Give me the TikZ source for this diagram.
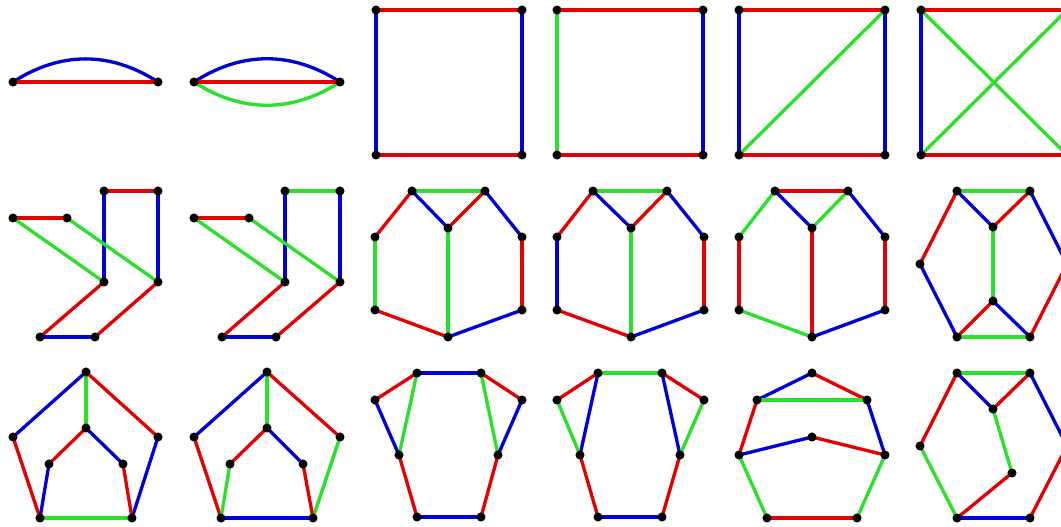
\documentclass[tikz,border=0pt]{standalone}
\definecolor{er}{RGB}{228,0,0}
\definecolor{eb}{RGB}{0,0,215}
\definecolor{eg}{RGB}{40,225,40}
\pgfdeclarelayer{bg}
\pgfsetlayers{bg,main}
\begin{document}
\begin{tikzpicture}[x=0.75pt,y=-0.75pt,
  dot/.style={circle,fill=black,inner sep=0pt,minimum size=6.8pt},
  R/.style={draw=er,line width=2.5pt},
  B/.style={draw=eb,line width=2.5pt},
  G/.style={draw=eg,line width=2.5pt},
  wide/.style={line width=3.7pt}]
\useasboundingbox (0,0) rectangle (1061,526);
\clip (0,0) rectangle (1061,526);
% ---------- row 1 ----------
\node[dot] (c1a) at (13,82) {};
\node[dot] (c1b) at (158,82) {};
\node[dot] (c2a) at (194,82) {};
\node[dot] (c2b) at (340,82) {};
\foreach \n/\x in {3/376,4/557,5/739} {
  \pgfmathtruncatemacro{\xr}{\x+146}
  \node[dot] (c\n a) at (\x,10) {};
  \node[dot] (c\n b) at (\xr,10) {};
  \node[dot] (c\n c) at (\x,155) {};
  \node[dot] (c\n d) at (\xr,155) {};
}
\node[dot] (c6a) at (921,10) {};
\coordinate (c6b) at (1067,10);
\node[dot] (c6c) at (921,155) {};
\coordinate (c6d) at (1067,155);
% ---------- row 2 ----------
\foreach \n/\ax/\bx/\cx/\dx/\gx/\hx in {7/13/67/104/158/40/95, 8/194/249/285/340/222/276} {
  \node[dot] (c\n a) at (\ax,218) {};
  \node[dot] (c\n b) at (\bx,218) {};
  \node[dot] (c\n c) at (\cx,191) {};
  \node[dot] (c\n d) at (\dx,191) {};
  \node[dot] (c\n e) at (\cx,282) {};
  \node[dot] (c\n f) at (\dx,282) {};
  \node[dot] (c\n g) at (\gx,337) {};
  \node[dot] (c\n h) at (\hx,337) {};
}
\foreach \n/\a/\b/\m/\l/\r in {9/412/485/448/375/522, 10/593/667/631/557/704, 11/775/848/812/739/885} {
  \node[dot] (c\n t1) at (\a,191) {};
  \node[dot] (c\n t2) at (\b,191) {};
  \node[dot] (c\n m) at (\m,228) {};
  \node[dot] (c\n l1) at (\l,237) {};
  \node[dot] (c\n r1) at (\r,237) {};
  \node[dot] (c\n l2) at (\l,310) {};
  \node[dot] (c\n r2) at (\r,310) {};
  \node[dot] (c\n b) at (\m,337) {};
}
\node[dot] (c12t1) at (957,191) {};
\node[dot] (c12t2) at (1030,191) {};
\node[dot] (c12m1) at (993,227) {};
\node[dot] (c12l) at (920,264) {};
\node[dot] (c12m2) at (993,301) {};
\node[dot] (c12b1) at (957,337) {};
\node[dot] (c12b2) at (1030,337) {};
\coordinate (c12r) at (1067,264);
% ---------- row 3 ----------
\foreach \n/\t/\l/\r/\il/\ir/\bl/\br in {13/86/13/158/49/123/40/132, 14/267/194/340/230/303/221/313} {
  \node[dot] (c\n top) at (\t,372) {};
  \node[dot] (c\n l) at (\l,437) {};
  \node[dot] (c\n r) at (\r,437) {};
  \node[dot] (c\n it) at (\t,428) {};
  \node[dot] (c\n il) at (\il,464) {};
  \node[dot] (c\n ir) at (\ir,464) {};
  \node[dot] (c\n bl) at (\bl,518) {};
  \node[dot] (c\n br) at (\br,518) {};
}
\foreach \n/\tl/\tr/\l/\r/\ml/\mr in {15/417/481/375/522/399/498, 16/598/662/557/704/580/680} {
  \node[dot] (c\n tl) at (\tl,373) {};
  \node[dot] (c\n tr) at (\tr,373) {};
  \node[dot] (c\n l) at (\l,400) {};
  \node[dot] (c\n r) at (\r,400) {};
  \node[dot] (c\n ml) at (\ml,455) {};
  \node[dot] (c\n mr) at (\mr,455) {};
  \node[dot] (c\n bl) at (\tl,517) {};
  \node[dot] (c\n br) at (\tr,517) {};
}
\node[dot] (c17t) at (812,373) {};
\node[dot] (c17ul) at (757,400) {};
\node[dot] (c17ur) at (867,400) {};
\node[dot] (c17c) at (812,437) {};
\node[dot] (c17l) at (739,455) {};
\node[dot] (c17r) at (885,455) {};
\node[dot] (c17bl) at (767,518) {};
\node[dot] (c17br) at (857,518) {};
\node[dot] (c18t1) at (957,373) {};
\node[dot] (c18t2) at (1030,373) {};
\node[dot] (c18m1) at (993,409) {};
\node[dot] (c18l) at (920,446) {};
\node[dot] (c18m2) at (1012,473) {};
\node[dot] (c18b1) at (957,518) {};
\node[dot] (c18b2) at (1030,518) {};
\coordinate (c18r) at (1067,446);
% ---------- edges ----------
\begin{pgfonlayer}{bg}
% cell 1
\draw[B] (c1a.center) to[bend left=33] (c1b.center);
\draw[R,wide] (c1a.center) -- (c1b.center);
% cell 2
\draw[B] (c2a.center) to[bend left=33] (c2b.center);
\draw[G] (c2a.center) to[bend right=33] (c2b.center);
\draw[R,wide] (c2a.center) -- (c2b.center);
% cell 3
\draw[R] (c3a.center) -- (c3b.center);
\draw[R,wide] (c3c.center) -- (c3d.center);
\draw[B] (c3a.center) -- (c3c.center);
\draw[B] (c3b.center) -- (c3d.center);
% cell 4
\draw[R] (c4a.center) -- (c4b.center);
\draw[R,wide] (c4c.center) -- (c4d.center);
\draw[G] (c4a.center) -- (c4c.center);
\draw[B] (c4b.center) -- (c4d.center);
% cell 5
\draw[R] (c5a.center) -- (c5b.center);
\draw[R,wide] (c5c.center) -- (c5d.center);
\draw[B,wide] (c5a.center) -- (c5c.center);
\draw[B] (c5b.center) -- (c5d.center);
\draw[G] (c5c.center) -- (c5b.center);
% cell 6
\draw[R] (c6a.center) -- (c6b);
\draw[R,wide] (c6c.center) -- (c6d);
\draw[B] (c6a.center) -- (c6c.center);
\draw[G] (c6a.center) -- (c6d);
\draw[G] (c6c.center) -- (c6b);
% cell 7
\draw[R,wide] (c7a.center) -- (c7b.center);
\draw[R,wide] (c7c.center) -- (c7d.center);
\draw[B,wide] (c7c.center) -- (c7e.center);
\draw[B] (c7d.center) -- (c7f.center);
\draw[G] (c7a.center) -- (c7e.center);
\draw[G] (c7b.center) -- (c7f.center);
\draw[R] (c7e.center) -- (c7g.center);
\draw[R] (c7f.center) -- (c7h.center);
\draw[B] (c7g.center) -- (c7h.center);
% cell 8
\draw[R,wide] (c8a.center) -- (c8b.center);
\draw[G,wide] (c8c.center) -- (c8d.center);
\draw[B] (c8c.center) -- (c8e.center);
\draw[B,wide] (c8d.center) -- (c8f.center);
\draw[G] (c8a.center) -- (c8e.center);
\draw[G] (c8b.center) -- (c8f.center);
\draw[R] (c8e.center) -- (c8g.center);
\draw[R] (c8f.center) -- (c8h.center);
\draw[B] (c8g.center) -- (c8h.center);
% cell 9
\draw[G,wide] (c9t1.center) -- (c9t2.center);
\draw[R] (c9t1.center) -- (c9l1.center);
\draw[B] (c9t1.center) -- (c9m.center);
\draw[R] (c9t2.center) -- (c9m.center);
\draw[B] (c9t2.center) -- (c9r1.center);
\draw[G] (c9l1.center) -- (c9l2.center);
\draw[R] (c9r1.center) -- (c9r2.center);
\draw[G] (c9m.center) -- (c9b.center);
\draw[R] (c9l2.center) -- (c9b.center);
\draw[B] (c9r2.center) -- (c9b.center);
% cell 10
\draw[G,wide] (c10t1.center) -- (c10t2.center);
\draw[R] (c10t1.center) -- (c10l1.center);
\draw[B] (c10t1.center) -- (c10m.center);
\draw[R] (c10t2.center) -- (c10m.center);
\draw[B] (c10t2.center) -- (c10r1.center);
\draw[B] (c10l1.center) -- (c10l2.center);
\draw[R] (c10r1.center) -- (c10r2.center);
\draw[G,wide] (c10m.center) -- (c10b.center);
\draw[R] (c10l2.center) -- (c10b.center);
\draw[B] (c10r2.center) -- (c10b.center);
% cell 11
\draw[R,wide] (c11t1.center) -- (c11t2.center);
\draw[G] (c11t1.center) -- (c11l1.center);
\draw[B] (c11t1.center) -- (c11m.center);
\draw[G] (c11t2.center) -- (c11m.center);
\draw[B] (c11t2.center) -- (c11r1.center);
\draw[R,wide] (c11l1.center) -- (c11l2.center);
\draw[R] (c11r1.center) -- (c11r2.center);
\draw[R] (c11m.center) -- (c11b.center);
\draw[G] (c11l2.center) -- (c11b.center);
\draw[B] (c11r2.center) -- (c11b.center);
% cell 12
\draw[G,wide] (c12t1.center) -- (c12t2.center);
\draw[R] (c12t1.center) -- (c12l.center);
\draw[B] (c12t1.center) -- (c12m1.center);
\draw[R] (c12t2.center) -- (c12m1.center);
\draw[B] (c12t2.center) -- (c12r);
\draw[G] (c12m1.center) -- (c12m2.center);
\draw[R] (c12m2.center) -- (c12b1.center);
\draw[B] (c12m2.center) -- (c12b2.center);
\draw[B] (c12l.center) -- (c12b1.center);
\draw[G,wide] (c12b1.center) -- (c12b2.center);
\draw[R] (c12r) -- (c12b2.center);
% cell 13
\draw[B] (c13top.center) -- (c13l.center);
\draw[R] (c13top.center) -- (c13r.center);
\draw[G,wide] (c13top.center) -- (c13it.center);
\draw[R] (c13it.center) -- (c13il.center);
\draw[B] (c13it.center) -- (c13ir.center);
\draw[R] (c13l.center) -- (c13bl.center);
\draw[B] (c13r.center) -- (c13br.center);
\draw[B] (c13il.center) -- (c13bl.center);
\draw[R] (c13ir.center) -- (c13br.center);
\draw[G,wide] (c13bl.center) -- (c13br.center);
% cell 14
\draw[B] (c14top.center) -- (c14l.center);
\draw[R] (c14top.center) -- (c14r.center);
\draw[G,wide] (c14top.center) -- (c14it.center);
\draw[R] (c14it.center) -- (c14il.center);
\draw[B] (c14it.center) -- (c14ir.center);
\draw[R] (c14l.center) -- (c14bl.center);
\draw[G] (c14r.center) -- (c14br.center);
\draw[G] (c14il.center) -- (c14bl.center);
\draw[R] (c14ir.center) -- (c14br.center);
\draw[B,wide] (c14bl.center) -- (c14br.center);
% cell 15
\draw[B,wide] (c15tl.center) -- (c15tr.center);
\draw[R] (c15tl.center) -- (c15l.center);
\draw[G] (c15tl.center) -- (c15ml.center);
\draw[R] (c15tr.center) -- (c15r.center);
\draw[G] (c15tr.center) -- (c15mr.center);
\draw[B] (c15l.center) -- (c15ml.center);
\draw[B] (c15r.center) -- (c15mr.center);
\draw[R] (c15ml.center) -- (c15bl.center);
\draw[R] (c15mr.center) -- (c15br.center);
\draw[B,wide] (c15bl.center) -- (c15br.center);
% cell 16
\draw[G,wide] (c16tl.center) -- (c16tr.center);
\draw[R] (c16tl.center) -- (c16l.center);
\draw[B] (c16tl.center) -- (c16ml.center);
\draw[R] (c16tr.center) -- (c16r.center);
\draw[B] (c16tr.center) -- (c16mr.center);
\draw[G] (c16l.center) -- (c16ml.center);
\draw[G] (c16r.center) -- (c16mr.center);
\draw[R] (c16ml.center) -- (c16bl.center);
\draw[R] (c16mr.center) -- (c16br.center);
\draw[B,wide] (c16bl.center) -- (c16br.center);
% cell 17
\draw[B] (c17t.center) -- (c17ul.center);
\draw[R] (c17t.center) -- (c17ur.center);
\draw[G,wide] (c17ul.center) -- (c17ur.center);
\draw[R] (c17ul.center) -- (c17l.center);
\draw[B] (c17ur.center) -- (c17r.center);
\draw[B] (c17l.center) -- (c17c.center);
\draw[R] (c17c.center) -- (c17r.center);
\draw[G] (c17l.center) -- (c17bl.center);
\draw[G] (c17r.center) -- (c17br.center);
\draw[R,wide] (c17bl.center) -- (c17br.center);
% cell 18
\draw[G,wide] (c18t1.center) -- (c18t2.center);
\draw[R] (c18t1.center) -- (c18l.center);
\draw[B] (c18t1.center) -- (c18m1.center);
\draw[R] (c18t2.center) -- (c18m1.center);
\draw[B] (c18t2.center) -- (c18r);
\draw[G] (c18m1.center) -- (c18m2.center);
\draw[R] (c18m2.center) -- (c18b1.center);
\draw[G] (c18l.center) -- (c18b1.center);
\draw[B,wide] (c18b1.center) -- (c18b2.center);
\draw[R] (c18r) -- (c18b2.center);
\end{pgfonlayer}
\end{tikzpicture}
\end{document}
